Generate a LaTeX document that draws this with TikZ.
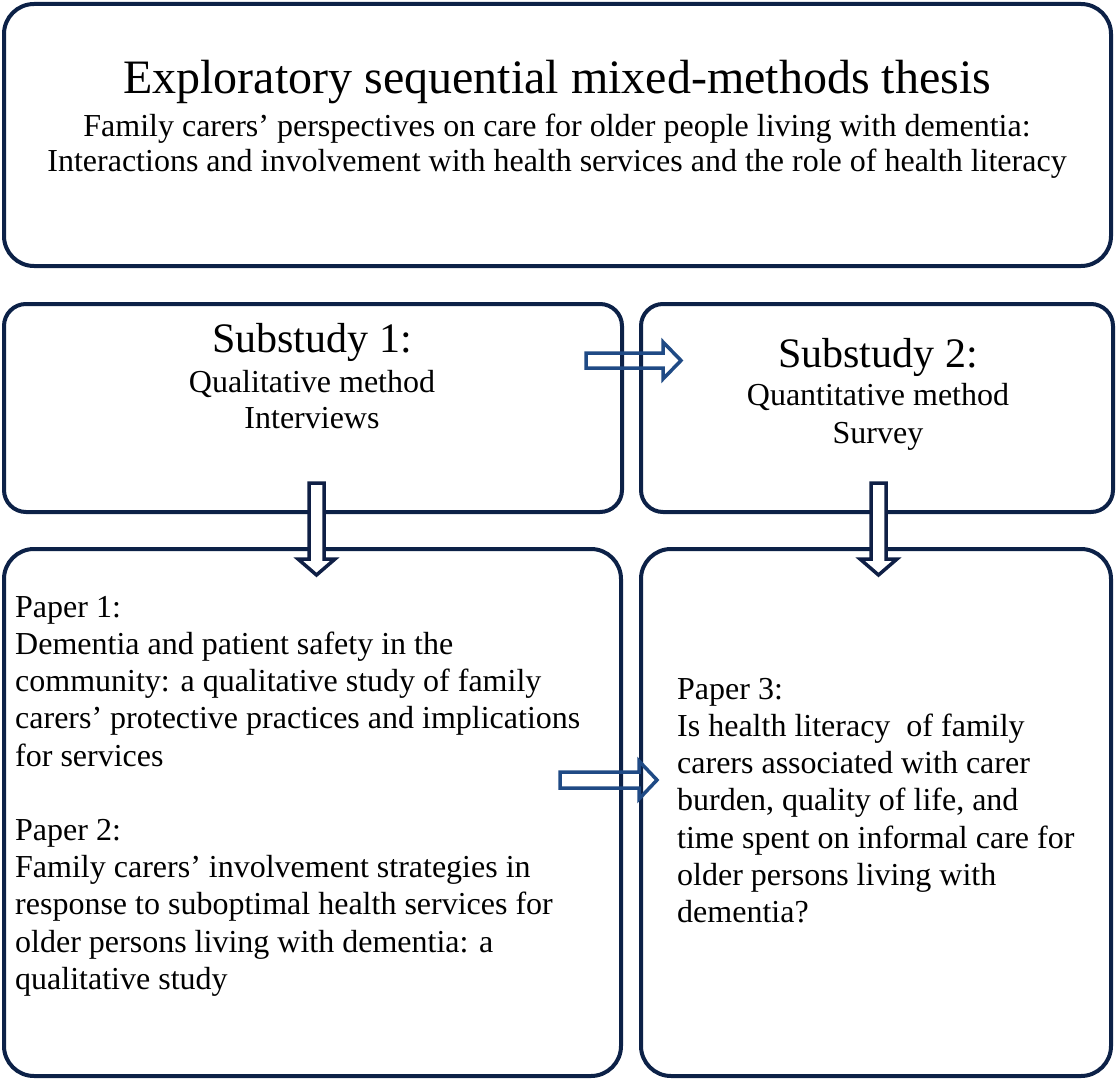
\documentclass[tikz,border=0pt]{standalone}
\usepackage{fontspec}
\setmainfont{Liberation Serif}
\definecolor{boxline}{HTML}{0C2147}
\definecolor{harrow}{HTML}{1F4A85}
\definecolor{varrow}{HTML}{0F1F45}
\begin{document}
\begin{tikzpicture}[x=1pt,y=-1pt,
  box/.style={draw=boxline, line width=4pt, fill=white},
  harr/.style={draw=harrow, line width=3.5pt, line join=miter},
  varr/.style={draw=varrow, line width=3.5pt, fill=white, line join=miter},
  body/.style={font=\fontsize{32}{37.2}\selectfont, align=left, inner sep=0pt, anchor=north west},
  cen/.style={align=center, inner sep=0pt}]
\useasboundingbox (0,0) rectangle (1117,1081);
% boxes
\draw[box, rounded corners=30pt] (4,4) rectangle (1111,266);
\draw[box, rounded corners=22pt] (4,304) rectangle (622,512);
\draw[box, rounded corners=22pt] (641,304) rectangle (1113,512);
\draw[box, rounded corners=30pt] (4,549) rectangle (621,1076);
\draw[box, rounded corners=30pt] (641,549) rectangle (1111,1076);
% block arrows
\draw[harr] (586,353) -- (663,353) -- (663,342) -- (681,360.5) -- (663,379) -- (663,368) -- (586,368) -- cycle;
\draw[harr] (560,772) -- (639,772) -- (639,761) -- (657,780) -- (639,799) -- (639,788) -- (560,788) -- cycle;
\draw[varr] (309,483) -- (324,483) -- (324,559) -- (335,559) -- (316.5,575) -- (298,559) -- (309,559) -- cycle;
\draw[varr] (871,483) -- (886,483) -- (886,559) -- (897,559) -- (878.5,575) -- (860,559) -- (871,559) -- cycle;
% texts
\node[cen, font=\fontsize{48}{54}\selectfont] (title) at (557,82) {Exploratory sequential mixed-methods thesis};
\node[cen, font=\fontsize{32}{35.5}\selectfont] (sub) at (557,146) {Family carers’ perspectives on care for older people living with dementia:\\Interactions and involvement with health services and the role of health literacy};
\node[cen, font=\fontsize{42}{46}\selectfont] (s1) at (312,342) {Substudy 1:};
\node[cen, font=\fontsize{32}{36}\selectfont] (s1b) at (312,400) {Qualitative method\\Interviews};
\node[cen, font=\fontsize{42}{46}\selectfont] (s2) at (878,357) {Substudy 2:};
\node[cen, font=\fontsize{32}{38}\selectfont] (s2b) at (878,417) {Quantitative method\\Survey};
\node[body] (p12) at (15,596) {Paper 1:\\Dementia and patient safety in the\\community: a qualitative study of family\\carers’ protective practices and implications\\for services\\[37.2pt]Paper 2:\\Family carers’ involvement strategies in\\response to suboptimal health services for\\older persons living with dementia: a\\qualitative study};
\node[body] (p3) at (677,678) {Paper 3:\\Is health literacy\ \ of family\\carers associated with carer\\burden, quality of life, and\\time spent on informal care for\\older persons living with\\dementia?};
\end{tikzpicture}
\end{document}
